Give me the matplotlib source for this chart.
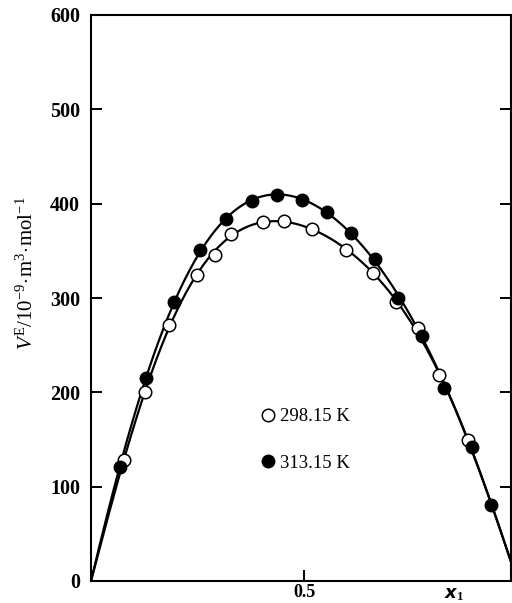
""" Excess molar volume V^E against mole fraction x1 at two temperatures.
    Points read off the scanned figure, curves are Redlich-Kister fits
    through those points.
"""
import matplotlib
matplotlib.use("Agg")
import matplotlib.pyplot as plt
from matplotlib.lines import Line2D
import numpy as np

plt.rcParams['font.family'] = ['Liberation Serif', 'DejaVu Serif']
plt.rcParams['mathtext.fontset'] = 'custom'
plt.rcParams['mathtext.rm'] = 'Liberation Serif'
plt.rcParams['mathtext.it'] = 'Liberation Serif:italic'
plt.rcParams['mathtext.bf'] = 'Liberation Serif:bold'

# 298.15 K (open circles)
x_298 = [0.077, 0.127, 0.182, 0.248, 0.291, 0.329, 0.403, 0.452, 0.519,
         0.597, 0.661, 0.716, 0.766, 0.815, 0.884]
v_298 = [128, 200, 271, 324, 346, 368, 381, 382, 373,
         351, 326, 296, 268, 218, 150]

# 313.15 K (filled circles)
x_313 = [0.067, 0.130, 0.195, 0.256, 0.316, 0.378, 0.437, 0.495, 0.553,
         0.610, 0.667, 0.721, 0.777, 0.828, 0.893, 0.939]
v_313 = [121, 215, 296, 351, 384, 403, 409, 404, 391,
         369, 341, 300, 260, 205, 142, 81]

labels = ['298.15 K', '313.15 K']
y_ticks = [0, 100, 200, 300, 400, 500, 600]
XMAX = 0.985


def rk_fit(x, v, order=5):
    # least squares fit of V = x(1-x) * sum A_k (2x-1)^k
    x = np.asarray(x, float)
    v = np.asarray(v, float)
    cols = [x * (1 - x) * (2 * x - 1) ** k for k in range(order)]
    A = np.column_stack(cols)
    coef, *_ = np.linalg.lstsq(A, v, rcond=None)
    xs = np.linspace(0, 1, 400)
    vs = sum(c * xs * (1 - xs) * (2 * xs - 1) ** k for k, c in enumerate(coef))
    return xs, vs


fig = plt.figure(figsize=(5.12, 6.03), dpi=100)
ax = fig.add_axes([91 / 512, 22 / 603, 420 / 512, 566 / 603])

for x, v in [(x_298, v_298), (x_313, v_313)]:
    xs, vs = rk_fit(x, v)
    ax.plot(xs, vs, color='black', lw=1.6, zorder=2)

ax.plot(x_298, v_298, 'o', ms=9, mfc='white', mec='black', mew=1.1, zorder=3)
ax.plot(x_313, v_313, 'o', ms=9, mfc='black', mec='black', zorder=4)

ax.set_xlim(0, XMAX)
ax.set_ylim(0, 600)
ax.set_xticks([0.5])
ax.set_xticklabels(['0.5'])
ax.set_yticks(y_ticks)
ax.set_yticklabels([str(t) for t in y_ticks])
ax.tick_params(axis='both', direction='in', length=8, width=1.4, right=True)
ax.tick_params(axis='y', labelsize=14.5, pad=8)
ax.tick_params(axis='x', labelsize=13, pad=2)
for lab in ax.get_xticklabels() + ax.get_yticklabels():
    lab.set_fontweight('bold')
for sp in ax.spines.values():
    sp.set_linewidth(1.5)

ax.text(0.865, -0.008, r'$\mathbfit{x}_{\mathbf{1}}$', transform=ax.transAxes,
        fontsize=13, ha='center', va='top')
fig.text(27 / 512, 1 - 273 / 603,
         r'$V^{\mathrm{E}}/10^{-9}\!\cdot\!\mathrm{m}^{3}\!\cdot\!\mathrm{mol}^{-1}$',
         rotation=90, ha='center', va='center', fontsize=15)

handles = [
    Line2D([], [], ls='none', marker='o', ms=9, mfc='white', mec='black', mew=1.1),
    Line2D([], [], ls='none', marker='o', ms=9, mfc='black', mec='black'),
]
ax.legend(handles, labels, loc='upper left', bbox_to_anchor=(0.405, 0.305),
          frameon=False, fontsize=13.5, handlelength=0.7, handletextpad=0.3,
          labelspacing=1.55, borderpad=0, borderaxespad=0)

plt.savefig("out.png", dpi=100)
